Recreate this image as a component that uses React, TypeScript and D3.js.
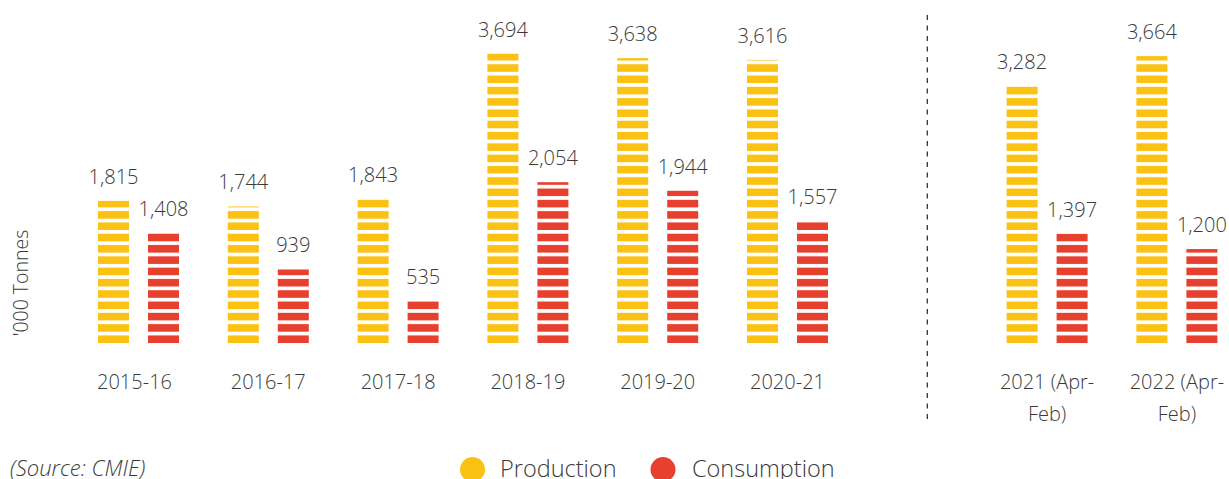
import React from "react";
import * as d3 from "d3";

const categories = ["2015-16", "2016-17", "2017-18", "2018-19", "2019-20", "2020-21", "2021 (Apr-Feb)", "2022 (Apr-Feb)"];
const categoryLines = [["2015-16"], ["2016-17"], ["2017-18"], ["2018-19"], ["2019-20"], ["2020-21"], ["2021 (Apr-", "Feb)"], ["2022 (Apr-", "Feb)"]];
const production = [1815, 1744, 1843, 3694, 3638, 3616, 3282, 3664];
const consumption = [1408, 939, 535, 2054, 1944, 1557, 1397, 1200];
const seriesNames = ["Production", "Consumption"];
const seriesColors = ["#FBC113", "#E8402F"];
const GAP = "__gap__";

const W = 1229;
const H = 479;
const BASE = 343;
const PERIOD = 11.3;
const STRIPE = 7.6;
const FONT = "'Open Sans', 'Noto Sans', sans-serif";
const TEXT = "#3a3a3a";

export default function App() {
  const domain = [...categories.slice(0, 6), GAP, ...categories.slice(6)];
  const step = 129.8;
  const x0 = 73.6;
  const x = d3.scaleBand<string>().domain(domain).range([x0, x0 + step * domain.length]).padding(0);
  const groupW = 81;
  const inner = d3
    .scaleBand<string>()
    .domain(seriesNames)
    .range([-groupW / 2, groupW / 2])
    .paddingInner(0.38)
    .paddingOuter(0);
  const y = d3.scaleLinear().domain([0, 3700]).range([BASE, BASE - 289.7]);
  const fmt = d3.format(",");
  const values = [production, consumption];

  const center = (c: string) => (x(c) as number) + x.bandwidth() / 2;
  const sepX = center(GAP) + 10;

  return (
    <svg width={W} height={H} style={{ position: "absolute", left: 0, top: 0 }} fontFamily={FONT}>
      <defs>
        {seriesColors.map((col, i) => (
          <pattern
            key={i}
            id={`stripe${i}`}
            patternUnits="userSpaceOnUse"
            x={0}
            y={BASE}
            width={20}
            height={PERIOD}
          >
            <rect x={0} y={PERIOD - STRIPE} width={20} height={STRIPE} fill={col} />
          </pattern>
        ))}
      </defs>

      {categories.map((c, ci) => (
        <g key={c}>
          {seriesNames.map((s, si) => {
            const v = values[si][ci];
            const bx = center(c) + (inner(s) as number);
            const bw = inner.bandwidth();
            return (
              <g key={s}>
                <rect x={bx} y={y(v)} width={bw} height={y(0) - y(v)} fill={`url(#stripe${si})`} />
                <text
                  x={bx + bw / 2}
                  y={y(v) - 17}
                  textAnchor="middle"
                  fontSize={20}
                  fontWeight={300}
                  fill={TEXT}
                >
                  {fmt(v)}
                </text>
              </g>
            );
          })}
          {categoryLines[ci].map((line, li) => (
            <text
              key={li}
              x={center(c) - (ci === 0 ? 4 : 0)}
              y={389 + li * 32}
              textAnchor="middle"
              fontSize={20}
              fontWeight={300}
              fill={TEXT}
            >
              {line}
            </text>
          ))}
        </g>
      ))}

      <line x1={sepX} x2={sepX} y1={15} y2={422} stroke="#333" strokeWidth={1.3} strokeDasharray="5,5.5" />

      <text
        transform="translate(28,283) rotate(-90)"
        textAnchor="middle"
        fontSize={19.5}
        fontWeight={300}
        fill={TEXT}
      >
        '000 Tonnes
      </text>

      <text x={10} y={476} fontSize={22} fontStyle="italic" fontWeight={300} fill={TEXT}>
        (Source: CMIE)
      </text>

      <g>
        <circle cx={472.5} cy={469.5} r={12.5} fill={seriesColors[0]} />
        <text x={500} y={477} fontSize={23.5} fontWeight={300} fill={TEXT}>
          {seriesNames[0]}
        </text>
        <circle cx={663} cy={469.5} r={12.5} fill={seriesColors[1]} />
        <text x={692} y={477} fontSize={23.5} fontWeight={300} fill={TEXT}>
          {seriesNames[1]}
        </text>
      </g>
    </svg>
  );
}
